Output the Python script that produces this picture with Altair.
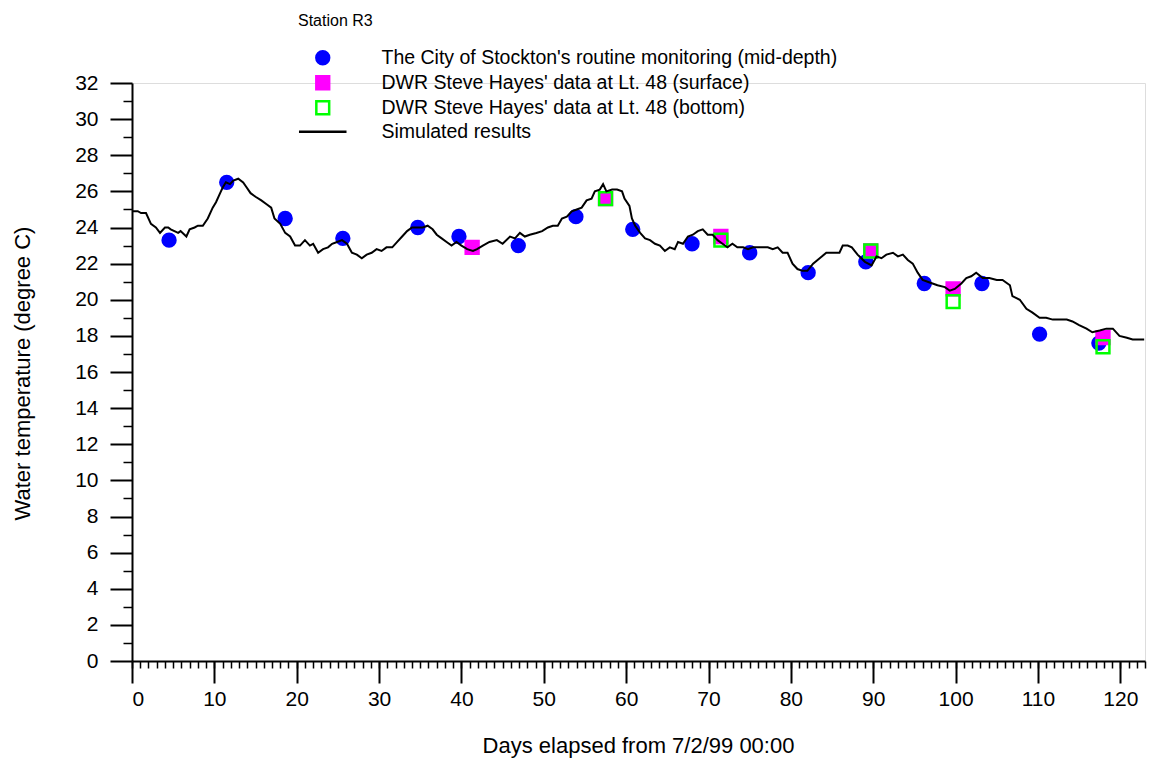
import altair as alt
import pandas as pd

# ---- Simulated results (line) ----
line_day = [0.0, 0.7, 1.1, 1.7, 2.3, 2.9, 3.4, 4.0, 4.4, 4.7, 5.6, 5.9, 6.6, 7.0, 7.6, 8.0, 8.6, 9.2, 9.8, 10.2,
            10.7, 11.0, 11.4, 11.9, 12.3, 12.9, 13.5, 13.8, 14.4, 15.0, 15.7, 16.3, 16.9, 17.3, 18.0, 18.6, 19.2, 19.8,
            20.4, 21.0, 21.6, 22.0, 22.6, 23.2, 23.8, 24.3, 24.9, 25.5, 26.1, 26.7, 27.3, 27.9, 28.5, 29.1, 29.7, 30.3,
            30.9, 31.6, 32.2, 32.8, 33.4, 34.0, 34.6, 35.3, 35.9, 36.5, 37.0, 37.6, 38.2, 38.8, 39.4, 40.0, 40.7, 41.4,
            41.9, 42.6, 43.4, 44.3, 45.0, 45.9, 46.5, 47.1, 47.7, 48.3, 49.1, 49.8, 50.5, 51.1, 51.7, 52.2, 52.8, 53.4,
            54.0, 54.6, 55.2, 55.8, 56.2, 56.8, 57.2, 57.6, 58.3, 58.9, 59.5, 59.8, 60.4, 60.7, 61.1, 61.7, 62.3, 62.9,
            63.5, 64.1, 64.7, 65.3, 65.9, 66.3, 66.9, 67.5, 68.1, 68.7, 69.3, 69.9, 70.5, 71.1, 71.7, 72.3, 72.9, 73.5,
            74.2, 74.8, 75.4, 76.0, 76.6, 77.2, 77.8, 78.4, 79.0, 79.6, 80.2, 80.8, 81.4, 82.0, 82.7, 83.5, 84.3, 85.1,
            85.9, 86.3, 86.9, 87.4, 88.1, 89.0, 89.8, 90.4, 91.0, 91.6, 92.4, 93.0, 93.6, 94.2, 94.8, 95.4, 96.0, 96.6,
            97.2, 97.8, 98.7, 99.3, 99.9, 100.7, 101.3, 101.9, 102.5, 103.3, 104.1, 105.0, 105.7, 106.6, 106.9, 107.8,
            108.6, 109.3, 110.2, 111.0, 111.8, 112.6, 113.5, 114.2, 115.0, 115.9, 116.6, 117.5, 118.3, 119.1, 119.9,
            120.8, 121.5, 122.3, 122.9]
line_temp = [24.9, 24.9, 24.8, 24.8, 24.2, 24.0, 23.7, 24.0, 24.0, 23.9, 23.7, 23.8, 23.5, 23.9, 24.0, 24.1, 24.1, 24.5,
             25.1, 25.4, 25.9, 26.2, 26.5, 26.4, 26.6, 26.7, 26.5, 26.3, 25.9, 25.7, 25.5, 25.3, 25.1, 24.5, 24.2, 23.7,
             23.5, 23.0, 23.0, 23.3, 23.0, 23.1, 22.6, 22.8, 22.9, 23.1, 23.2, 23.3, 23.1, 22.6, 22.5, 22.3, 22.5, 22.6,
             22.8, 22.7, 22.9, 22.9, 23.2, 23.5, 23.8, 24.0, 24.0, 24.0, 24.1, 23.9, 23.6, 23.4, 23.2, 23.0, 23.2, 23.0,
             22.8, 22.7, 22.8, 23.0, 23.2, 23.3, 23.1, 23.5, 23.4, 23.7, 23.5, 23.6, 23.7, 23.8, 24.0, 24.1, 24.1, 24.5,
             24.6, 24.9, 25.0, 25.1, 25.5, 25.6, 26.0, 26.1, 26.4, 26.0, 26.1, 26.1, 26.0, 25.6, 25.2, 24.5, 24.1, 23.7,
             23.4, 23.3, 23.1, 23.0, 22.7, 22.9, 22.8, 23.2, 23.1, 23.5, 23.6, 23.8, 23.9, 23.6, 23.6, 23.3, 23.1, 22.9,
             23.1, 22.9, 22.9, 22.8, 22.9, 22.9, 22.9, 22.9, 22.8, 22.9, 22.6, 22.6, 22.0, 21.7, 21.6, 21.6, 22.0, 22.3,
             22.6, 22.6, 22.6, 23.0, 23.0, 22.9, 22.5, 22.1, 21.9, 22.4, 22.3, 22.5, 22.6, 22.4, 22.5, 22.2, 22.0, 21.5,
             21.1, 21.0, 20.9, 20.8, 20.7, 20.5, 20.6, 20.9, 21.2, 21.3, 21.5, 21.2, 21.2, 21.1, 21.1, 20.8, 20.2, 20.0,
             19.5, 19.3, 19.0, 19.0, 18.9, 18.9, 18.9, 18.8, 18.6, 18.4, 18.2, 18.3, 18.4, 18.4, 18.0, 17.9, 17.8, 17.8,
             17.8]

# ---- Observations ----
mid_day = [4.5, 11.5, 18.6, 25.6, 34.7, 39.7, 46.9, 53.9, 60.8, 68.0, 75.0, 82.1, 89.1, 96.2, 103.2, 110.2, 117.4]
mid_temp = [23.3, 26.5, 24.5, 23.4, 24.0, 23.5, 23.0, 24.6, 23.9, 23.1, 22.6, 21.5, 22.1, 20.9, 20.9, 18.1, 17.6]

surf_day = [41.3, 57.5, 71.5, 89.7, 99.7, 117.9]
surf_temp = [22.9, 25.6, 23.5, 22.7, 20.6, 17.9]

bot_day = [57.5, 71.5, 89.7, 99.7, 117.9]
bot_temp = [25.6, 23.3, 22.7, 19.9, 17.4]

series_names = [
    "The City of Stockton's routine monitoring (mid-depth)",
    "DWR Steve Hayes' data at Lt. 48 (surface)",
    "DWR Steve Hayes' data at Lt. 48 (bottom)",
    "Simulated results",
]

x_major = list(range(0, 121, 10))
x_minor = list(range(0, 124))
y_major = list(range(0, 33, 2))
y_minor = list(range(1, 32, 2))

line_df = pd.DataFrame({"day": line_day, "temp": line_temp})
pts_df = pd.concat([
    pd.DataFrame({"day": mid_day, "temp": mid_temp, "series": series_names[0], "ord": 0}),
    pd.DataFrame({"day": surf_day, "temp": surf_temp, "series": series_names[1], "ord": 1}),
    pd.DataFrame({"day": bot_day, "temp": bot_temp, "series": series_names[2], "ord": 2}),
], ignore_index=True)

FONT = "Liberation Sans"
xs = alt.Scale(domain=[0, 123], nice=False, zero=False)
ys = alt.Scale(domain=[0, 32], nice=False, zero=False)

leg = alt.Legend(
    title=None, orient="none", legendX=181, legendY=-35, direction="vertical",
    labelFont=FONT, labelFontSize=19.5, labelColor="black", labelLimit=0, labelOffset=49,
    symbolSize=165, symbolStrokeWidth=2.5, symbolOpacity=1, rowPadding=1, padding=0,
)

major_x_axis = alt.Axis(
    values=x_major, orient="bottom", grid=False, tickSize=22, tickWidth=2, tickColor="black",
    domainColor="black", domainWidth=2, labelFont=FONT, labelFontSize=21, labelColor="black",
    labelPadding=5, labelAngle=0, title="Days elapsed from 7/2/99 00:00", titleFont=FONT,
    titleFontSize=22, titleFontWeight="normal", titleColor="black", titleX=506, titleY=84,
    titleBaseline="middle", titleAlign="center",
)
minor_x_axis = alt.Axis(
    values=x_minor, orient="bottom", grid=False, labels=False, domain=False, tickSize=7,
    tickWidth=1.5, tickColor="black", title=None,
)
major_y_axis = alt.Axis(
    values=y_major, orient="left", grid=False, tickSize=22, tickWidth=2, tickColor="black",
    domainColor="black", domainWidth=2, labelFont=FONT, labelFontSize=21, labelColor="black",
    labelPadding=12, title="Water temperature (degree C)", titleFont=FONT, titleFontSize=22,
    titleFontWeight="normal", titleColor="black", titleX=-110, titleY=290, titleAngle=270,
    titleBaseline="middle", titleAlign="center",
)
minor_y_axis = alt.Axis(
    values=y_minor, orient="left", grid=False, labels=False, domain=False, tickSize=9,
    tickWidth=1.5, tickColor="black", title=None,
)

points = alt.Chart(pts_df).mark_point(size=165, strokeWidth=2.5, opacity=1).encode(
    x=alt.X("day:Q", scale=xs, axis=major_x_axis),
    y=alt.Y("temp:Q", scale=ys, axis=major_y_axis),
    shape=alt.Shape("series:N", scale=alt.Scale(domain=series_names,
                    range=["circle", "square", "square", "M-3.7,0H3.7"]), legend=leg),
    fill=alt.Fill("series:N", scale=alt.Scale(domain=series_names,
                  range=["#0000ff", "#ff00ff", "transparent", "transparent"]), legend=leg),
    stroke=alt.Stroke("series:N", scale=alt.Scale(domain=series_names,
                      range=["#0000ff", "#ff00ff", "#00ff00", "#000000"]), legend=leg),
    order=alt.Order("ord:Q"),
)

line = alt.Chart(line_df).mark_line(color="black", strokeWidth=2).encode(
    x=alt.X("day:Q", scale=xs, axis=minor_x_axis),
    y=alt.Y("temp:Q", scale=ys, axis=minor_y_axis),
)

chart = alt.layer(points, line).resolve_axis(x="independent", y="independent").properties(
    width=1013, height=578,
    padding={"left": 132, "top": 83, "right": 14, "bottom": 97},
    autosize=alt.AutoSizeParams(type="none"),
    title=alt.TitleParams("Station R3", anchor="start", frame="group", dx=166, offset=19,
                          font=FONT, fontSize=16, fontWeight="normal", color="black"),
).configure_view(stroke=None).configure(font=FONT, background="white")

chart.save("out.html", embed_options={"renderer": "svg", "actions": False})
